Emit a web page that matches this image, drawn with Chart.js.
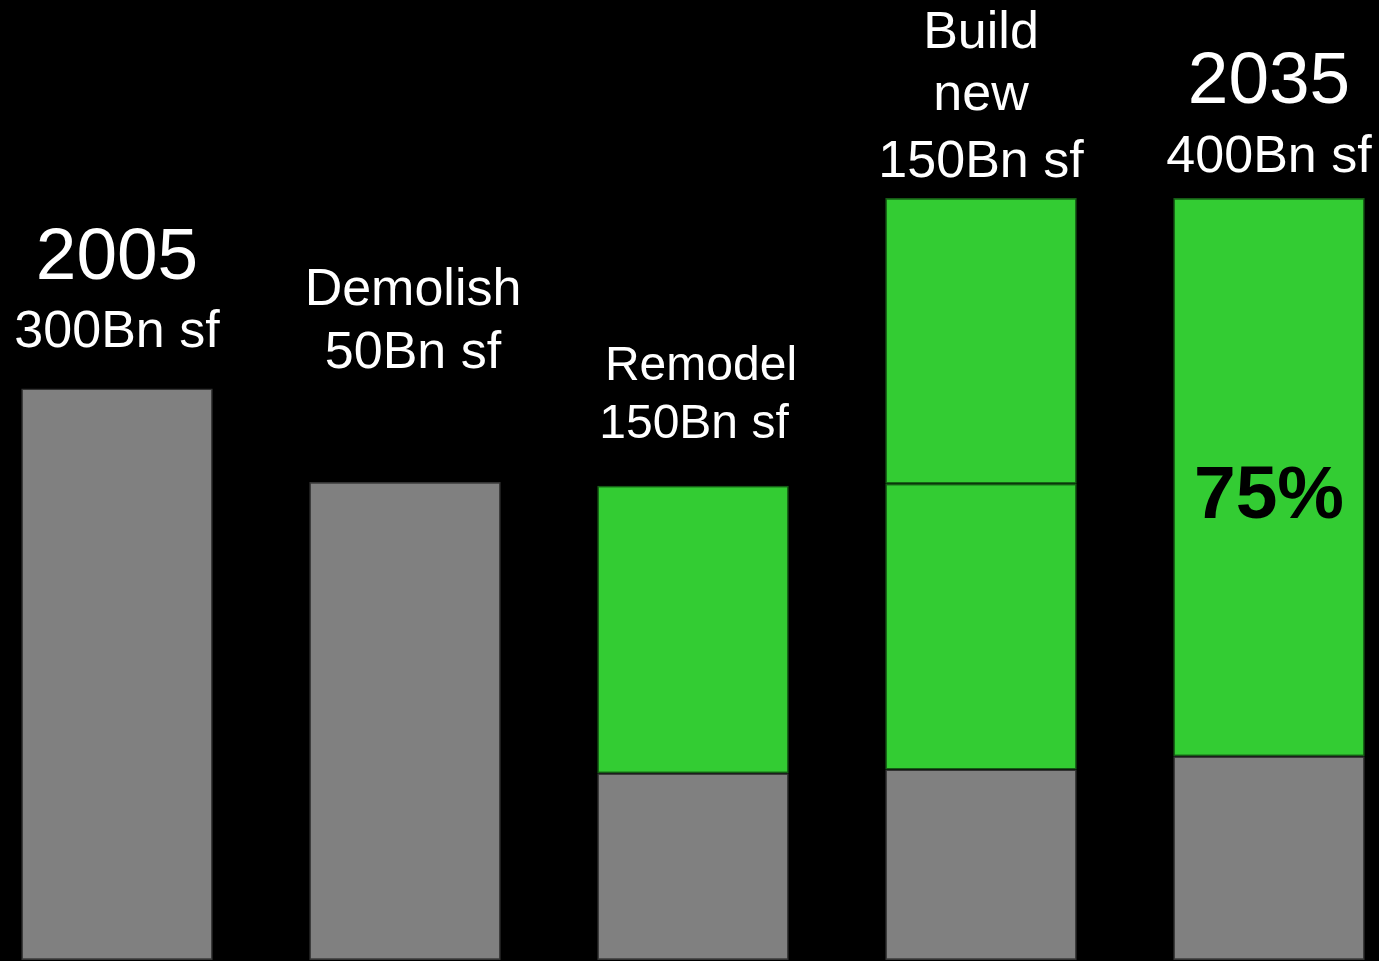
<!DOCTYPE html>
<html>
<head>
<meta charset="utf-8">
<script src="https://cdn.jsdelivr.net/npm/chart.js@4/dist/chart.umd.min.js"></script>
<style>
  html, body { margin: 0; padding: 0; background: #000; }
  #wrap { width: 1379px; height: 961px; position: relative; }
</style>
</head>
<body>
<div id="wrap"><canvas id="ibuildings"></canvas></div>
<script>
// categories and values (Bn sq ft)
const categories = ["2005", "Demolish", "Remodel", "Build new", "2035"];
const areaLabels = ["300Bn sf", "50Bn sf", "150Bn sf", "150Bn sf", "400Bn sf"];
const existing = [300, 251, 98, 100, 107];
const remodeled = [0, 0, 151, 150, 293];
const builtNew = [0, 0, 0, 150, 0];
const shareLabel = "75%";

const GRAY = "#808080";
const GREEN = "#33cc33";
const FONT = "'Liberation Sans', Arial, sans-serif";

// heading text above each bar: [text, size, baseline, x nudge]
const headings = [
    [[categories[0], 73, 279, 0], [areaLabels[0], 52, 347, 0]],
    [[categories[1], 52, 305, 8], [areaLabels[1], 52, 368, 8]],
    [[categories[2], 48, 380, 8], [areaLabels[2], 48, 438, 1]],
    [["Build", 52, 48, 0], ["new", 52, 110, 0], [areaLabels[3], 52, 177, 0]],
    [[categories[4], 73, 103, 0], [areaLabels[4], 52, 172, 0]]
];

const textPlugin = {
    id: "barText",
    afterDatasetsDraw(chart) {
        const ctx = chart.ctx;
        const x = chart.scales.x;
        ctx.save();
        ctx.textAlign = "center";
        ctx.textBaseline = "alphabetic";
        ctx.fillStyle = "#fff";
        headings.forEach((lines, i) => {
            const cx = x.getPixelForValue(i);
            lines.forEach(([txt, size, y, dx]) => {
                ctx.font = `${size}px ${FONT}`;
                ctx.fillText(txt, cx + dx, y);
            });
        });
        // share of the 2035 stock that is new or remodeled
        ctx.fillStyle = "#000";
        ctx.font = `bold 75px ${FONT}`;
        ctx.fillText(shareLabel, x.getPixelForValue(4), 518);
        ctx.restore();
    }
};

const barStyle = {
    borderWidth: 1.5,
    borderSkipped: false,
    categoryPercentage: 1,
    barPercentage: 0.665,
    clip: false
};

new Chart("ibuildings", {
    type: "bar",
    data: {
        labels: categories,
        datasets: [
            { data: existing, backgroundColor: GRAY, borderColor: "#333", ...barStyle },
            { data: remodeled, backgroundColor: GREEN, borderColor: "#155c15", ...barStyle },
            { data: builtNew, backgroundColor: GREEN, borderColor: "#155c15", ...barStyle }
        ]
    },
    options: {
        responsive: true,
        maintainAspectRatio: false,
        animation: false,
        layout: { padding: { left: 117, right: 110, top: 0, bottom: 1 } },
        scales: {
            x: { display: false, offset: false, stacked: true },
            y: { display: false, stacked: true, min: 0, max: 504 }
        },
        plugins: {
            legend: { display: false },
            tooltip: { enabled: false }
        }
    },
    plugins: [textPlugin]
}); //<---stacked bars, text drawn on top
</script>
</body>
</html>
